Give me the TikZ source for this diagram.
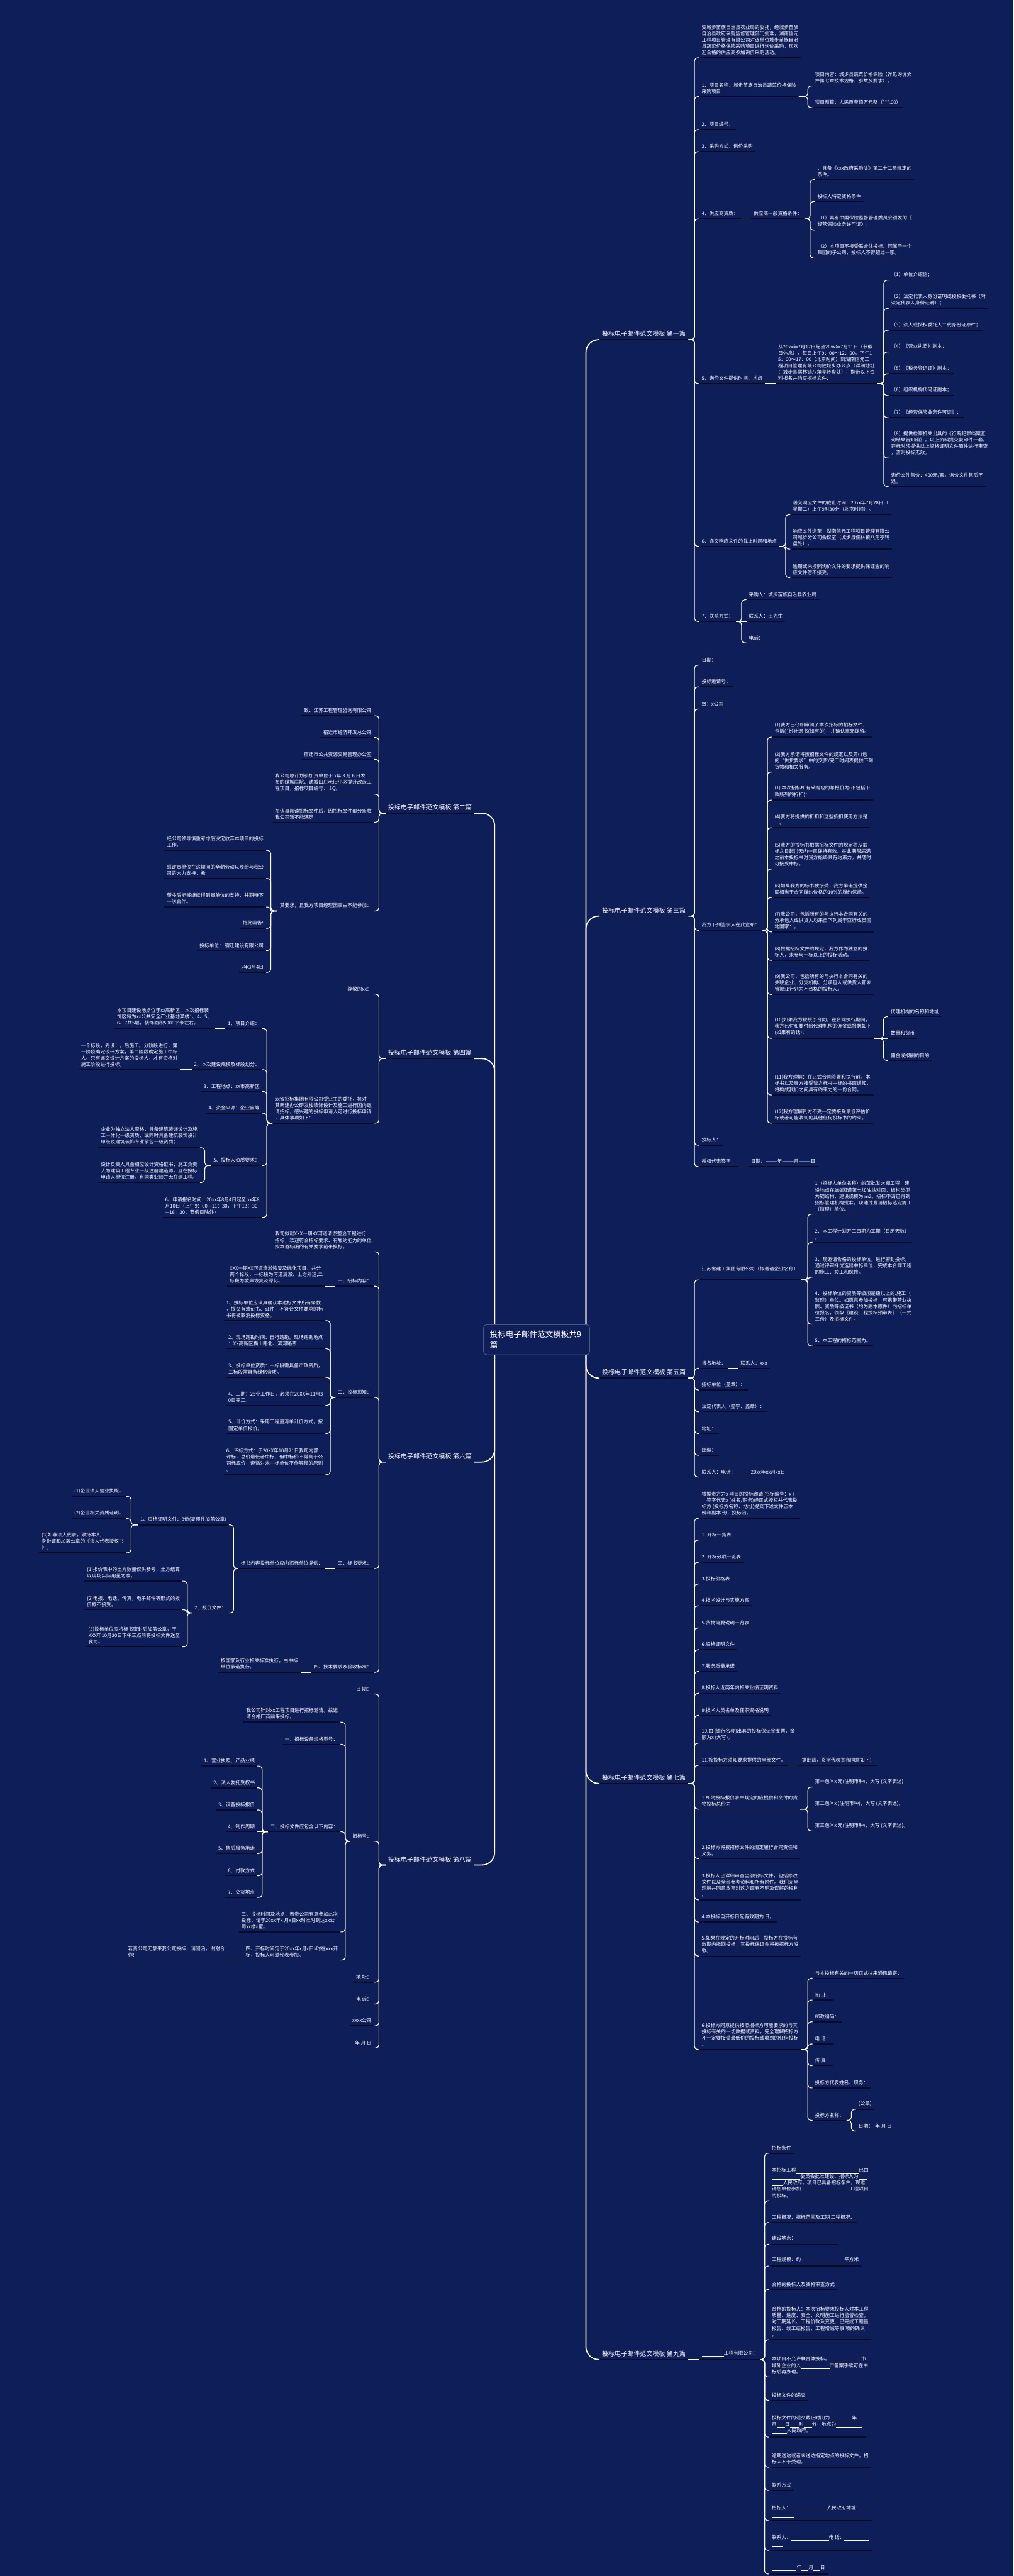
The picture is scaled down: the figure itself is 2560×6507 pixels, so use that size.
\documentclass[tikz,border=0pt]{standalone}
\usepackage{fontspec}
\setmainfont{Noto Sans CJK SC}
\definecolor{mapbg}{RGB}{14,30,88}
\definecolor{mapline}{RGB}{4,10,36}
\definecolor{rootrim}{RGB}{72,88,126}
\newcommand{\hole}[1]{\underline{\hspace{#1em}}}

\begin{document}
\begin{tikzpicture}[x=0.5pt, y=-0.5pt,
    every node/.style={text=white, font=\fontsize{6.1}{8}\selectfont, inner xsep=3pt, inner ysep=3.5pt},
    uline/.style={draw=mapline, line width=1.2pt},
    leaf/.style={align=left, append after command={(\tikzlastnode.south west) edge[uline] (\tikzlastnode.south east)}},
    rn/.style={leaf, anchor=south west},
    ln/.style={leaf, anchor=south east},
    pian/.style={leaf, font=\fontsize{8}{10}\selectfont},
    conn/.style={draw=white, line width=0.9pt, rounded corners=4pt},
    trunk/.style={draw=white, line width=1.4pt, rounded corners=16pt},
    rootbox/.style={draw=rootrim, fill=mapbg, line width=0.8pt, rounded corners=4pt, align=left,
        font=\fontsize{10}{13}\selectfont, text width=118pt, inner xsep=8pt, minimum height=38pt}]
    \fill[mapbg] (0,0) rectangle (2560,6507);
    \useasboundingbox (0,0) rectangle (2560,6507);

    % root
    \node[rootbox] (root) at (1355,3384) {投标电子邮件范文模板共9\\篇};
    \coordinate (rtn) at ([xshift=-5pt]root.north east);
    \coordinate (rts) at ([xshift=-5pt]root.south east);
    \coordinate (ltn) at ([xshift=14.5pt]root.north west);
    \coordinate (lts) at ([xshift=14.5pt]root.south west);

    % ---------------- 第一篇
    \node[pian, anchor=south west] (p1) at (1514,858) {投标电子邮件范文模板 第一篇};
    \node[rn] (p1a) at (1766,146) {受城步苗族自治县农业局的委托，经城步苗族\\自治县政府采购监督管理部门批准，湖南信元\\工程项目管理有限公司对该单位城步苗族自治\\县蔬菜价格保险采购项目进行询价采购，现欢\\迎合格的供应商参加询价采购活动。};
    \node[rn] (p1b) at (1766,244) {1、项目名称：城步苗族自治县蔬菜价格保险\\采购项目};
    \node[rn] (p1b1) at (2052,217) {项目内容：城步县蔬菜价格保险（详见询价文\\件第七章技术规格、参数及要求）。};
    \node[rn] (p1b2) at (2052,272) {项目预算：人民币壹佰万元整（***.00）};
    \node[rn] (p1c) at (1766,327) {2、项目编号：};
    \node[rn] (p1d) at (1766,383) {3、采购方式：询价采购};
    \node[rn] (p1e) at (1766,553) {4、供应商资质：};
    \node[rn] (p1e1) at (1897,553) {供应商一般资格条件：};
    \node[rn] (p1e1a) at (2058,454) {、具备《xxx政府采购法》第二十二条规定的\\条件。};
    \node[rn] (p1e1b) at (2058,509) {投标人特定资格条件};
    \node[rn] (p1e1c) at (2058,581) {（1）具有中国保险监督管理委员会颁发的《\\经营保险业务许可证》；};
    \node[rn] (p1e1d) at (2058,652) {（2）本项目不接受联合体投标。同属于一个\\集团的子公司，投标人不得超过一家。};
    \node[rn] (p1f) at (1766,969) {5、询价文件提供时间、地点};
    \node[rn] (p1f1) at (1959,969) {从20xx年7月17日起至20xx年7月21日（节假\\日休息），每日上午9：00～12：00，下午1\\5：00～17：00（北京时间）到湖南信元工\\程项目管理有限公司驻城步办公点（详细地址\\：城步县儒林镇八角亭转盘处），携带以下资\\料报名并购买招标文件：};
    \node[rn] (p1f1a) at (2244,708) {（1）单位介绍信；};
    \node[rn] (p1f1b) at (2244,779) {（2）法定代表人身份证明或授权委托书（附\\法定代表人身份证明）；};
    \node[rn] (p1f1c) at (2244,834) {（3）法人或授权委托人二代身份证原件；};
    \node[rn] (p1f1d) at (2244,889) {（4）《营业执照》副本；};
    \node[rn] (p1f1e) at (2244,944) {（5）《税务登记证》副本；};
    \node[rn] (p1f1f) at (2244,999) {（6）组织机构代码证副本；};
    \node[rn] (p1f1g) at (2244,1055) {（7）《经营保险业务许可证》；};
    \node[rn] (p1f1h) at (2244,1157) {（8）提供检察机关出具的《行贿犯罪档案查\\询结果告知函》。以上资料提交复印件一套。\\开标时须提供以上资格证明文件原件进行审查\\，否则投标无效。};
    \node[rn] (p1f1i) at (2244,1229) {询价文件售价：400元/套。询价文件售后不\\退。};
    \node[rn] (p1g) at (1766,1380) {6、递交响应文件的截止时间和地点};
    \node[rn] (p1g1) at (1996,1300) {递交响应文件的截止时间：20xx年7月28日（\\星期二）上午9时30分（北京时间）。};
    \node[rn] (p1g2) at (1996,1387) {响应文件送至：湖南信元工程项目管理有限公\\司城步分公司会议室（城步县儒林镇八角亭转\\盘处）。};
    \node[rn] (p1g3) at (1996,1459) {逾期或未按照询价文件的要求提供保证金的响\\应文件恕不接受。};
    \node[rn] (p1h) at (1766,1570) {7、联系方式：};
    \node[rn] (p1h1) at (1885,1515) {采购人：城步苗族自治县农业局};
    \node[rn] (p1h2) at (1885,1570) {联系人：王先生};
    \node[rn] (p1h3) at (1885,1624) {电话：};

    % ---------------- 第三篇
    \node[pian, anchor=south west] (p3) at (1514,2314) {投标电子邮件范文模板 第三篇};
    \node[rn] (p3a) at (1766,1680) {日期：};
    \node[rn] (p3b) at (1766,1735) {投标邀请号：};
    \node[rn] (p3c) at (1766,1791) {致：x公司};
    \node[rn] (p3d) at (1766,2350) {我方下列签字人在此宣布：};
    \node[rn] (p3d1) at (1950,1862) {(1)我方已仔细审阅了本次招标的招标文件，\\包括( )份补遗书(如有的)，并确认毫无保留。};
    \node[rn] (p3d2) at (1950,1950) {(2)我方承诺将按招标文件的规定以及第( )包\\的“供货要求”中的交货/完工时间表提供下列\\货物和相关服务。};
    \node[rn] (p3d3) at (1950,2021) {(1) 本次招标所有采购包的总报价为(不包括下\\款所列的折扣)：};
    \node[rn] (p3d4) at (1950,2091) {(4)我方将提供的折扣和这些折扣使用方法是\\：。};
    \node[rn] (p3d5) at (1950,2195) {(5)我方的投标书根据招标文件的规定将从截\\标之日起( )天内一直保持有效。在此期限届满\\之前本投标书对我方始终具有约束力，并随时\\可接受中标。};
    \node[rn] (p3d6) at (1950,2267) {(6)如果我方的标书被接受，我方承诺提供金\\额相当于合同履约价格的10\%的履约保函。};
    \node[rn] (p3d7) at (1950,2354) {(7)我公司，包括所有的与执行本合同有关的\\分承包人或供货人均来自下列属于亚行成员国\\地国家：。};
    \node[rn] (p3d8) at (1950,2426) {(8)根据招标文件的规定，我方作为独立的投\\标人，未参与一标以上的投标活动。};
    \node[rn] (p3d9) at (1950,2512) {(9)我公司，包括所有的与执行本合同有关的\\关联企业、分支机构、分承包人或供货人都未\\曾被亚行列为不合格的投标人。};
    \node[rn] (p3d10) at (1950,2623) {(10)如果我方被授予合同，在合同执行期间，\\我方已付和要付给代理机构的佣金或报酬如下\\(如果有的话)：};
    \node[rn] (p3d10a) at (2243,2568) {代理机构的名称和地址};
    \node[rn] (p3d10b) at (2243,2623) {数量和货币};
    \node[rn] (p3d10c) at (2243,2679) {佣金或报酬的目的};
    \node[rn] (p3d11) at (1950,2766) {(11)我方理解：在正式合同签署和执行前，本\\标书以及贵方接受我方标书中标的书面通知，\\将构成我们之间具有约束力的一份合同。};
    \node[rn] (p3d12) at (1950,2837) {(12)我方理解贵方不受一定要接受最低评估价\\标或者可能收到的其他任何投标书的约束。};
    \node[rn] (p3e) at (1766,2893) {投标人：};
    \node[rn] (p3f) at (1766,2947) {授权代表签字：};
    \node[rn] (p3f1) at (1890,2947) {日期：———年———月———日};

    % ---------------- 第五篇
    \node[pian, anchor=south west] (p5) at (1514,3481) {投标电子邮件范文模板 第五篇};
    \node[rn] (p5a) at (1766,3233) {江苏省建工集团有限公司（拟邀请企业名称）\\：};
    \node[rn] (p5a1) at (2052,3067) {1（招标人单位名称）的菜批发大棚工程，建\\设地点在303国道第七加油站对面，结构类型\\为钢结构，建设规模为 m2。招标申请已得到\\招标管理机构批准，现通过邀请招标选定施工\\（监理）单位。};
    \node[rn] (p5a2) at (2052,3138) {2、本工程计划开工日期为工期（日历天数）\\。};
    \node[rn] (p5a3) at (2052,3226) {3、现邀请合格的投标单位，进行密封投标，\\通过评审择优选出中标单位，完成本合同工程\\的施工、竣工和保修。};
    \node[rn] (p5a4) at (2052,3345) {4、投标单位的资质等级须是级以上的.施工（\\监理）单位。如愿意参加投标，可携带营业执\\照、资质等级证书（均为副本原件）向招标单\\位报名，领取《建设工程投标预审表》（一式\\三份）及招标文件。};
    \node[rn] (p5a5) at (2052,3400) {5、本工程的招标范围为。};
    \node[rn] (p5b) at (1766,3456) {报名地址：};
    \node[rn] (p5b1) at (1864,3456) {联系人：xxx};
    \node[rn] (p5c) at (1766,3511) {招标单位（盖章）：};
    \node[rn] (p5d) at (1766,3566) {法定代表人（签字、盖章）：};
    \node[rn] (p5e) at (1766,3621) {地址：};
    \node[rn] (p5f) at (1766,3676) {邮编：};
    \node[rn] (p5g) at (1766,3731) {联系人：电话：};
    \node[rn] (p5g1) at (1890,3731) {20xx年xx月xx日};

    % ---------------- 第七篇
    \node[pian, anchor=south west] (p7) at (1514,4505) {投标电子邮件范文模板 第七篇};
    \node[rn] (p7a) at (1766,3835) {根据贵方为x 项目的投标邀请(招标编号：x )\\，签字代表x (姓名/职务)经正式授权并代表投\\标方 (投标方名称、地址)提交下述文件正本\\份和副本 份，投标函。};
    \node[rn] (p7b) at (1766,3890) {1. 开标一览表};
    \node[rn] (p7c) at (1766,3946) {2. 开标分项一览表};
    \node[rn] (p7d) at (1766,4001) {3.投标价格表};
    \node[rn] (p7e) at (1766,4056) {4.技术设计与实施方案};
    \node[rn] (p7f) at (1766,4112) {5.货物简要说明一览表};
    \node[rn] (p7g) at (1766,4167) {6.资格证明文件};
    \node[rn] (p7h) at (1766,4222) {7.服务质量承诺};
    \node[rn] (p7i) at (1766,4277) {8.投标人近两年内相关业绩证明资料};
    \node[rn] (p7j) at (1766,4333) {9.技术人员名单及任职资格说明};
    \node[rn] (p7k) at (1766,4403) {10.由 (银行名称)出具的投标保证金支票，金\\额为x (大写)。};
    \node[rn] (p7l) at (1766,4459) {11.按投标方须知要求提供的全部文件。};
    \node[rn] (p7l1) at (2019,4459) {据此函，签字代表宣布同意如下：};
    \node[rn] (p7m) at (1766,4570) {1.所附投标报价表中规定的应提供和交付的货\\物投标总价为};
    \node[rn] (p7m1) at (2052,4514) {第一包￥x 元(注明币种)，大写 (文字表述)};
    \node[rn] (p7m2) at (2052,4570) {第二包￥x (注明币种)，大写 (文字表述)。};
    \node[rn] (p7m3) at (2052,4625) {第三包￥x 元(注明币种)，大写 (文字表述)。};
    \node[rn] (p7n) at (1766,4695) {2.投标方将按招标文件的规定履行合同责任和\\义务。};
    \node[rn] (p7o) at (1766,4799) {3.投标人已详细审查全部招标文件，包括修改\\文件以及全部参考资料和所有附件。我们完全\\理解并同意放弃对这方面有不明及误解的权利\\。};
    \node[rn] (p7p) at (1766,4855) {4.本投标自开标日起有效期为 日。};
    \node[rn] (p7q) at (1766,4941) {5.如果在规定的开标时间后，投标方在投标有\\效期内撤回投标，其投标保证金将被招标方没\\收。};
    \node[rn] (p7r) at (1766,5177) {6.投标方同意提供按照招标方可能要求的与其\\投标有关的一切数据或资料，完全理解招标方\\不一定要接受最低价的投标或收到的任何投标\\。};
    \node[rn] (p7r1) at (2052,4997) {与本投标有关的一切正式往来通讯请寄：};
    \node[rn] (p7r2) at (2052,5052) {地~址：};
    \node[rn] (p7r3) at (2052,5107) {邮政编码：};
    \node[rn] (p7r4) at (2052,5163) {电~话：};
    \node[rn] (p7r5) at (2052,5218) {传~真：};
    \node[rn] (p7r6) at (2052,5274) {投标方代表姓名、职务：};
    \node[rn] (p7r7) at (2052,5356) {投标方名称：};
    \node[rn] (p7r7a) at (2162,5328) {(公章)};
    \node[rn] (p7r7b) at (2162,5383) {日期：~~年~月~日};

    % ---------------- 第九篇
    \node[pian, anchor=south west] (p9) at (1514,5960) {投标电子邮件范文模板 第九篇};
    \node[rn] (p9a) at (1767,5960) {\hole{4.5}工程有限公司：};
    \node[rn] (p9a1) at (1943,5439) {招标条件};
    \node[rn] (p9a2) at (1943,5559) {本招标工程\hole{13}已由\\\hole{5.9}委员会批准建设，招标人为\hole{1.7}\\\hole{2.3}人民政府。项目已具备招标条件，现邀\\请您单位参加\hole{10}工程项目\\的投标。};
    \node[rn] (p9a3) at (1943,5614) {工程概况、招标范围及工期 工程概况、};
    \node[rn] (p9a4) at (1943,5669) {建设地点：\hole{8.2}};
    \node[rn] (p9a5) at (1943,5724) {工程规模：约\hole{9}平方米};
    \node[rn] (p9a6) at (1943,5783) {合格的投标人及资格审查方式};
    \node[rn] (p9a7) at (1943,5910) {合格的投标人：本次招标要求投标人对本工程\\质量、进度、安全、文明施工进行监督检查，\\对工期延长、工程价款及变更、已完成工程量\\报告、竣工结报告、工程增减等事 项的确认\\。};
    \node[rn] (p9a8) at (1943,6004) {本项目不允许联合体投标。\hole{6.5}市\\域外企业的入\hole{5.9}市备案手续可在中\\标后再办理。};
    \node[rn] (p9a9) at (1943,6063) {投标文件的递交};
    \node[rn] (p9a10) at (1943,6156) {投标文件的递交截止时间为\hole{4.6}年\hole{1.2}\\月\hole{1.7}日\hole{1.9}时\hole{1.7}分，地点为\hole{5.5}\\\hole{3.1}人民政府。};
    \node[rn] (p9a11) at (1943,6232) {逾期送达或者未送达指定地点的投标文件，招\\标人不予受理。};
    \node[rn] (p9a12) at (1943,6291) {联系方式};
    \node[rn] (p9a13) at (1943,6367) {招标人：\hole{7.4}人民政府地址：\hole{1.7}\\\hole{4.6}};
    \node[rn] (p9a14) at (1943,6442) {联系人：\hole{7.8}电~话：\hole{5.1}\\\hole{2.3}};
    \node[rn] (p9a15) at (1943,6502) {\hole{5.1}年\hole{1.5}月\hole{1.4}日};

    % ---------------- 第二篇
    \node[pian, anchor=south east] (p2) at (1198,2054) {投标电子邮件范文模板 第二篇};
    \node[ln] (p2a) at (945,1808) {致：江苏工程管理咨询有限公司};
    \node[ln] (p2b) at (945,1863) {宿迁市经济开发总公司};
    \node[ln] (p2c) at (945,1918) {宿迁市公共资源交易管理办公室};
    \node[ln] (p2d) at (945,2006) {我公司原计划参加贵单位于 x年 3 月 6 日发\\布的绿城庭院、通城山庄老旧小区提升改造工\\程项目，招标项目编号： SQ。};
    \node[ln] (p2e) at (945,2077) {在认真阅读招标文件后，因招标文件部分条款\\我公司暂不能满足};
    \node[ln] (p2f) at (945,2301) {其要求，且我方项目经理因事由不能参加：};
    \node[ln] (p2f1) at (672,2148) {经公司领导慎重考虑后决定放弃本项目的投标\\工作。};
    \node[ln] (p2f2) at (672,2219) {感谢贵单位在这期间的辛勤劳动以及给与我公\\司的大力支持，希};
    \node[ln] (p2f3) at (672,2291) {望今后能够继续得到贵单位的支持，并期待下\\一次合作。};
    \node[ln] (p2f4) at (672,2345) {特此函告!};
    \node[ln] (p2f5) at (672,2401) {投标单位： 宿迁建设有限公司};
    \node[ln] (p2f6) at (672,2456) {x年3月4日};

    % ---------------- 第四篇
    \node[pian, anchor=south east] (p4) at (1198,2674) {投标电子邮件范文模板 第四篇};
    \node[ln] (p4a) at (945,2511) {尊敬的xx：};
    \node[ln] (p4b) at (945,2837) {xx省招标集团有限公司受业主的委托，将对\\其新建办公研发楼装饰设计及施工进行国内邀\\请招标，感兴趣的投标申请人可进行投标申请\\，具体事项如下：};
    \node[ln] (p4b1) at (662,2598) {1、项目介绍：};
    \node[ln] (p4b1a) at (542,2598) {本项目建设地点位于xx高新区，本次招标装\\饰区域为xx公共安全产业基地某楼1、4、5、\\6、7共5层，装饰面积5000平米左右。};
    \node[ln] (p4b2) at (662,2702) {2、本次建设规模及标段划分：};
    \node[ln] (p4b2a) at (455,2702) {一个标段，先设计，后施工。分阶段进行，第\\一阶段确定设计方案，第二阶段确定施工中标\\人。只有递交设计方案的投标人，才有资格对\\施工阶段进行投标。};
    \node[ln] (p4b3) at (662,2757) {3、工程地点：xx市高新区};
    \node[ln] (p4b4) at (662,2812) {4、资金来源：企业自筹};
    \node[ln] (p4b5) at (662,2944) {5、投标人资质要求：};
    \node[ln] (p4b5a) at (505,2899) {企业为独立法人资格，具备建筑装饰设计及施\\工一体化一级资质，或同时具备建筑装饰设计\\甲级及建筑装饰专业承包一级资质；};
    \node[ln] (p4b5b) at (505,2987) {设计负责人具备相应设计资格证书；施工负责\\人为建筑工程专业一级注册建造师，且在投标\\申请人单位注册，有同类业绩并无在建工程。};
    \node[ln] (p4b6) at (662,3075) {6、申请报名时间：20xx年8月4日起至 xx年8\\月10日（上午9：00—11：30，下午13：30\\—16：30，节假日除外）};

    % ---------------- 第六篇
    \node[pian, anchor=south east] (p6) at (1198,3693) {投标电子邮件范文模板 第六篇};
    \node[ln] (p6a) at (945,3162) {我司拟就XXX一期XX河道清淤整治工程进行\\招标，欢迎符合招标要求、有履约能力的单位\\按本邀标函的有关要求前来投标。};
    \node[ln] (p6b) at (945,3249) {一、招标内容：};
    \node[ln] (p6b1) at (822,3249) {XXX一期XX河道清淤恢复及绿化项目，共分\\两个标段，一标段为河道清淤、土方外运;二\\标段为坡岸恢复及绿化。};
    \node[ln] (p6c) at (945,3530) {二、投标须知：};
    \node[ln] (p6c1) at (822,3336) {1、投标单位应认真确认本邀标文件所有条款\\，提交有效证书、证件，不符合文件要求的标\\书将被取消投标资格。};
    \node[ln] (p6c2) at (822,3407) {2、现场踏勘时间：自行踏勘。现场踏勘地点\\：XX高新区横山路北、滨河路西};
    \node[ln] (p6c3) at (822,3479) {3、投标单位资质：一标段需具备市政资质，\\二标段需具备绿化资质。};
    \node[ln] (p6c4) at (822,3550) {4、工期：25个工作日，必须在20XX年11月3\\0日完工。};
    \node[ln] (p6c5) at (822,3621) {5、计价方式：采用工程量清单计价方式，按\\固定单价报价。};
    \node[ln] (p6c6) at (822,3725) {6、评标方式：于20XX年10月21日我司内部\\评标，总价最低者中标，但中标价不得高于公\\司标底价，遵循对未中标单位不作解释的原则\\。};
    \node[ln] (p6d) at (945,3962) {三、标书要求：};
    \node[ln] (p6d1) at (822,3962) {标书内容投标单位应向招标单位提供：};
    \node[ln] (p6d1a) at (578,3852) {1、资格证明文件：3份(复印件加盖公章)};
    \node[ln] (p6d1a1) at (319,3780) {(1)企业法人营业执照。};
    \node[ln] (p6d1a2) at (319,3836) {(2)企业相关资质证明。};
    \node[ln] (p6d1a3) at (319,3922) {(3)如非法人代表，须持本人\\身份证和加盖公章的《法人代表授权书\\》。};
    \node[ln] (p6d1b) at (578,4074) {2、报价文件：};
    \node[ln] (p6d1b1) at (461,3994) {(1)报价表中的土方数量仅供参考，土方结算\\以现场实际用量为准。};
    \node[ln] (p6d1b2) at (461,4066) {(2)电报、电话、传真，电子邮件等形式的报\\价概不接受。};
    \node[ln] (p6d1b3) at (461,4160) {(3)投标单位应将标书密封后加盖公章，于\\XXX年10月20日下午三点前将投标文件送至\\我司。};
    \node[ln] (p6e) at (945,4224) {四、技术要求及验收标准：};
    \node[ln] (p6e1) at (759,4224) {按国家及行业相关标准执行，由中标\\单位承诺执行。};

    % ---------------- 第八篇
    \node[pian, anchor=south east] (p8) at (1198,4711) {投标电子邮件范文模板 第八篇};
    \node[ln] (p8a) at (945,4279) {日~期：};
    \node[ln] (p8b) at (945,4651) {招标号：};
    \node[ln] (p8b1) at (860,4350) {我公司针对xx工程项目进行招标邀请。兹邀\\请合格厂商前来投标。};
    \node[ln] (p8b2) at (860,4406) {一、招标设备规格型号：};
    \node[ln] (p8b3) at (860,4627) {二、投标文件应包含以下内容：};
    \node[ln] (p8b3a) at (650,4461) {1、营业执照、产品业绩};
    \node[ln] (p8b3b) at (650,4516) {2、法人委托受权书};
    \node[ln] (p8b3c) at (650,4572) {3、设备投标报价};
    \node[ln] (p8b3d) at (650,4627) {4、制作周期};
    \node[ln] (p8b3e) at (650,4682) {5、售后服务承诺};
    \node[ln] (p8b3f) at (650,4738) {6、付款方式};
    \node[ln] (p8b3g) at (650,4793) {7、交货地点};
    \node[ln] (p8b4) at (860,4880) {三、投标时间及地点：若贵公司有意参加此次\\投标，请于20xx年x 月x日xx时准时到达xx公\\司xx楼x室。};
    \node[ln] (p8b5) at (860,4951) {四、开标时间定于20xx年x月x日x时在xxx开\\标，投标人可派代表参加。};
    \node[ln] (p8b5a) at (574,4951) {若贵公司无意来我公司投标，请回函，谢谢合\\作!};
    \node[ln] (p8c) at (945,5007) {地~址：};
    \node[ln] (p8d) at (945,5062) {电~话：};
    \node[ln] (p8e) at (945,5117) {xxxx公司};
    \node[ln] (p8f) at (945,5173) {年~月~日};

    % root trunks
    \foreach \b in {p1,p3} \draw[trunk] (rtn) |- (\b.south west);
    \foreach \b in {p5,p7,p9} \draw[trunk] (rts) |- (\b.south west);
    \foreach \b in {p2,p4} \draw[trunk] (ltn) |- (\b.south east);
    \foreach \b in {p6,p8} \draw[trunk] (lts) |- (\b.south east);

    % right side connectors
    \foreach \p/\cs in {p1/{p1a,p1b,p1c,p1d,p1e,p1f,p1g,p1h}, p1b/{p1b1,p1b2}, p1e1/{p1e1a,p1e1b,p1e1c,p1e1d},
        p1f1/{p1f1a,p1f1b,p1f1c,p1f1d,p1f1e,p1f1f,p1f1g,p1f1h,p1f1i}, p1g/{p1g1,p1g2,p1g3}, p1h/{p1h1,p1h3},
        p3/{p3a,p3b,p3c,p3d,p3e,p3f}, p3d/{p3d1,p3d2,p3d3,p3d4,p3d5,p3d6,p3d7,p3d8,p3d9,p3d10,p3d11,p3d12},
        p3d10/{p3d10a,p3d10c}, p5/{p5a,p5b,p5c,p5d,p5e,p5f,p5g}, p5a/{p5a1,p5a2,p5a3,p5a4,p5a5},
        p7/{p7a,p7b,p7c,p7d,p7e,p7f,p7g,p7h,p7i,p7j,p7k,p7l,p7m,p7n,p7o,p7p,p7q,p7r}, p7m/{p7m1,p7m3},
        p7r/{p7r1,p7r2,p7r3,p7r4,p7r5,p7r6,p7r7}, p7r7/{p7r7a,p7r7b},
        p9a/{p9a1,p9a2,p9a3,p9a4,p9a5,p9a6,p9a7,p9a8,p9a9,p9a10,p9a11,p9a12,p9a13,p9a14,p9a15}}
      \foreach \c in \cs
        \draw[conn] (\p.south east) -| ([xshift=-6pt]\c.south west) -- (\c.south west);
    \foreach \p/\c in {p1e/p1e1, p1f/p1f1, p1h/p1h2, p3d10/p3d10b, p3f/p3f1, p5b/p5b1, p5g/p5g1,
        p7l/p7l1, p7m/p7m2, p9/p9a}
      \draw[conn] (\p.south east) -- (\c.south west);

    % left side connectors
    \foreach \p/\cs in {p2/{p2a,p2b,p2c,p2d,p2e,p2f}, p2f/{p2f1,p2f2,p2f3,p2f4,p2f5,p2f6},
        p4/{p4a,p4b}, p4b/{p4b1,p4b2,p4b3,p4b4,p4b5,p4b6}, p4b5/{p4b5a,p4b5b},
        p6/{p6a,p6b,p6c,p6d,p6e}, p6c/{p6c1,p6c2,p6c3,p6c4,p6c5,p6c6}, p6d1/{p6d1a,p6d1b},
        p6d1a/{p6d1a1,p6d1a2,p6d1a3}, p6d1b/{p6d1b1,p6d1b2,p6d1b3},
        p8/{p8a,p8b,p8c,p8d,p8e,p8f}, p8b/{p8b1,p8b2,p8b3,p8b4,p8b5}, p8b3/{p8b3a,p8b3b,p8b3c,p8b3e,p8b3f,p8b3g}}
      \foreach \c in \cs
        \draw[conn] (\p.south west) -| ([xshift=6pt]\c.south east) -- (\c.south east);
    \foreach \p/\c in {p4b1/p4b1a, p4b2/p4b2a, p6b/p6b1, p6d/p6d1, p6e/p6e1, p8b3/p8b3d, p8b5/p8b5a}
      \draw[conn] (\p.south west) -- (\c.south east);
\end{tikzpicture}
\end{document}
